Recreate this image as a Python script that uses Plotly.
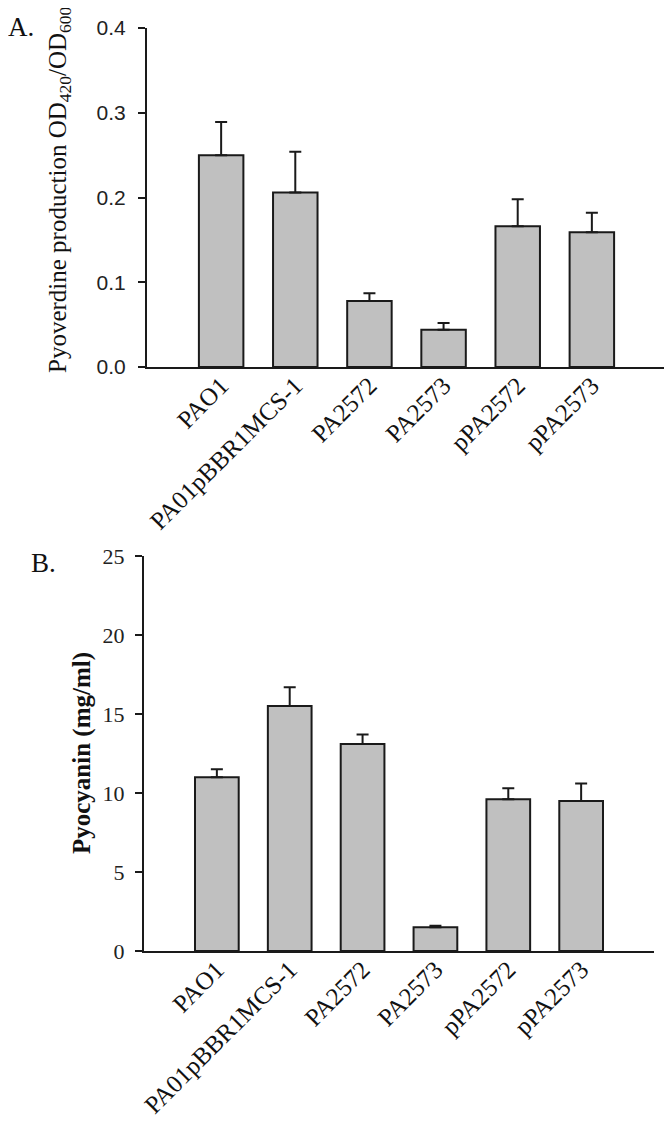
import plotly.graph_objects as go

strains = ["PAO1", "PA01pBBR1MCS-1", "PA2572", "PA2573", "pPA2572", "pPA2573"]

pyoverdine = [0.250, 0.206, 0.078, 0.044, 0.166, 0.159]
pyoverdine_err = [0.039, 0.048, 0.009, 0.008, 0.032, 0.023]

pyocyanin = [11.0, 15.5, 13.1, 1.5, 9.6, 9.5]
pyocyanin_err = [0.5, 1.2, 0.6, 0.1, 0.7, 1.1]

W, H = 672, 1121
OFF = 8  # page body margin, figure is drawn 8px in from the window corner
BAR_FILL = "#c0c0c0"
INK = "#1a1a1a"
SERIF = "Liberation Serif, Times New Roman, serif"
NARROW = "Liberation Sans Narrow, Arial Narrow, Liberation Sans, sans-serif"


def px(x):
    return (x - OFF) / W


def py(y):
    return 1 - (y - OFF) / H


fig = go.Figure()

fig.add_trace(go.Bar(
    x=strains, y=pyoverdine, xaxis="x", yaxis="y",
    width=0.6,
    marker=dict(color=BAR_FILL, line=dict(color=INK, width=2)),
    error_y=dict(type="data", symmetric=False, array=pyoverdine_err,
                 arrayminus=[0] * len(strains), color=INK, thickness=2, width=6),
    hoverinfo="skip",
))

fig.add_trace(go.Bar(
    x=strains, y=pyocyanin, xaxis="x2", yaxis="y2",
    width=0.6,
    marker=dict(color=BAR_FILL, line=dict(color=INK, width=2)),
    error_y=dict(type="data", symmetric=False, array=pyocyanin_err,
                 arrayminus=[0] * len(strains), color=INK, thickness=2, width=6),
    hoverinfo="skip",
))

xaxis_common = dict(
    type="category", range=[-1, 6], showgrid=False, zeroline=False,
    showline=True, linecolor=INK, linewidth=2, ticks="",
    tickangle=-45, tickfont=dict(family=SERIF, size=25, color="#111"),
    ticklabelstandoff=-8,
    fixedrange=True, automargin=False,
)
yaxis_common = dict(
    showgrid=False, zeroline=False, showline=True, linecolor=INK, linewidth=2,
    ticks="outside", ticklen=7, tickwidth=2, tickcolor=INK, fixedrange=True,
    automargin=False,
)

fig.update_layout(
    width=W, height=H,
    margin=dict(l=0, r=0, t=0, b=0, autoexpand=False),
    paper_bgcolor="white", plot_bgcolor="white",
    showlegend=False,
    bargap=0.4,
    xaxis=dict(xaxis_common, domain=[px(147), px(666)], anchor="y"),
    yaxis=dict(yaxis_common, domain=[py(367), py(28)], anchor="x",
               range=[0, 0.4], tickvals=[0, 0.1, 0.2, 0.3, 0.4],
               ticktext=["0.0", "0.1", "0.2", "0.3", "0.4"],
               ticklabelstandoff=8,
               tickfont=dict(family=NARROW, size=21, color="#222")),
    xaxis2=dict(xaxis_common, domain=[px(144), px(654)], anchor="y2"),
    yaxis2=dict(yaxis_common, domain=[py(951), py(556)], anchor="x2",
                range=[0, 25], tickvals=[0, 5, 10, 15, 20, 25],
                ticklabelstandoff=6,
                tickfont=dict(family=SERIF, size=22, color="#222")),
    annotations=[
        dict(text="A.", x=px(6), y=py(27), xref="paper", yref="paper",
             xanchor="left", yanchor="middle", showarrow=False,
             font=dict(family=SERIF, size=27, color="#111")),
        dict(text="B.", x=px(29), y=py(563), xref="paper", yref="paper",
             xanchor="left", yanchor="middle", showarrow=False,
             font=dict(family=SERIF, size=27, color="#111")),
        dict(text="Pyoverdine production OD<sub>420</sub>/OD<sub>600</sub>",
             x=px(59), y=py(190), xref="paper", yref="paper",
             xanchor="center", yanchor="middle", textangle=-90, showarrow=False,
             font=dict(family=SERIF, size=25, color="#111")),
        dict(text="<b>Pyocyanin (mg/ml)</b>",
             x=px(82), y=py(753), xref="paper", yref="paper",
             xanchor="center", yanchor="middle", textangle=-90, showarrow=False,
             font=dict(family=SERIF, size=25, color="#111")),
    ],
)

fig.write_html("out.html")
